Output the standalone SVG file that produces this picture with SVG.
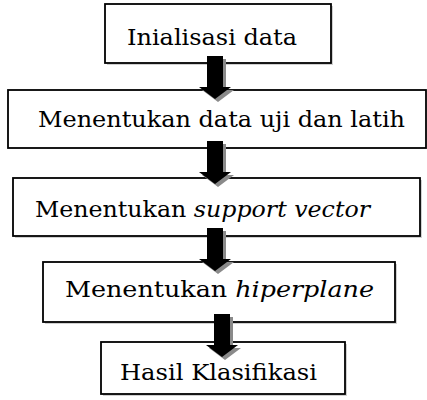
<svg xmlns="http://www.w3.org/2000/svg" width="427" height="400" viewBox="0 0 427 400">
<defs>
<style>
.shadow{fill:#d0d0d0;stroke:none}
.box{fill:#ffffff;stroke:#000000;stroke-width:1.8}
.lbl{font-family:"DejaVu Serif","Liberation Serif",serif;font-size:22px;fill:#000000}
.it{font-style:italic}
.ash{fill:#8a8a8a}
.arr{fill:#000000}
</style>
<path id="arrowShape" d="M-8,0 H8 V31 H16 L0,43 L-16,31 H-8 Z"/>
</defs>
<rect width="427" height="400" fill="#ffffff"/>
<g id="node1">
<rect class="shadow" x="107" y="6" width="226" height="59"/>
<rect class="box" x="105" y="4" width="226" height="59"/>
<text class="lbl" x="127" y="45" textLength="170" lengthAdjust="spacingAndGlyphs">Inialisasi data</text>
</g>
<g id="node2">
<rect class="box" x="8" y="90" width="418" height="58"/>
<text class="lbl" x="38" y="127" textLength="367" lengthAdjust="spacingAndGlyphs">Menentukan data uji dan latih</text>
</g>
<g id="node3">
<rect class="shadow" x="15" y="180" width="407" height="58"/>
<rect class="box" x="13" y="178" width="407" height="58"/>
<text class="lbl" x="35" y="217" textLength="335" lengthAdjust="spacingAndGlyphs">Menentukan <tspan class="it">support vector</tspan></text>
</g>
<g id="node4">
<rect class="shadow" x="45" y="264" width="352" height="60"/>
<rect class="box" x="43" y="262" width="352" height="60"/>
<text class="lbl" x="65" y="297" textLength="309" lengthAdjust="spacingAndGlyphs">Menentukan <tspan class="it">hiperplane</tspan></text>
</g>
<g id="node5">
<rect class="shadow" x="103" y="344" width="244" height="52"/>
<rect class="box" x="101" y="342" width="244" height="52"/>
<text class="lbl" x="120" y="380" textLength="197" lengthAdjust="spacingAndGlyphs">Hasil Klasifikasi</text>
</g>
<g id="connectors">
<g transform="translate(215,56)"><use href="#arrowShape" class="ash" x="3" y="3"/><use href="#arrowShape" class="arr"/></g>
<g transform="translate(215,141)"><use href="#arrowShape" class="ash" x="3" y="3"/><use href="#arrowShape" class="arr"/></g>
<g transform="translate(215,228)"><use href="#arrowShape" class="ash" x="3" y="3"/><use href="#arrowShape" class="arr"/></g>
<g transform="translate(222,314)"><use href="#arrowShape" class="ash" x="3" y="3"/><use href="#arrowShape" class="arr"/></g>
</g>
</svg>
